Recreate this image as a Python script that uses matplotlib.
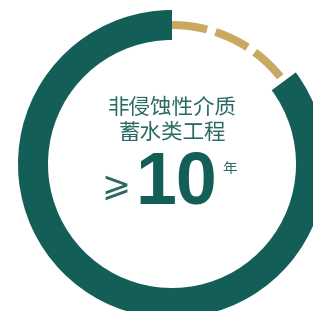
import matplotlib
matplotlib.use('Agg')
import matplotlib.pyplot as plt
import numpy as np
from matplotlib.patches import Wedge

plt.rcParams['font.family'] = ['Noto Sans CJK SC', 'DejaVu Sans']

# ring data (degrees, counter-clockwise from 3 o'clock)
solid_span = [36.5, 90.0]      # teal ring goes from 90 round to 36.5
dash_span = [36.5, 90.0]       # gold dashed part
title_lines = ['非侵蚀性介质', '蓄水类工程']
big_value = '10'
unit = '年'
prefix = '⩾'

teal = '#145e58'
gold = '#c9a862'
text_col = '#2b6a64'

W, H = 313, 311
fig = plt.figure(figsize=(W / 100, H / 100), dpi=100)
ax = fig.add_axes([0, 0, 1, 1])
ax.set_xlim(0, W)
ax.set_ylim(0, H)
ax.set_aspect('equal')
ax.axis('off')

cx, cy = 172, H - 164
r_out = 154
ring_w = 30

ax.add_patch(Wedge((cx, cy), r_out, solid_span[1], solid_span[0] + 360,
                   width=ring_w, facecolor=teal, edgecolor='none'))

# gold dashes run clockwise from the top
r_mid = r_out - ring_w / 2
t = np.radians(np.linspace(dash_span[1], dash_span[0], 200))
ax.plot(cx + r_mid * np.cos(t), cy + r_mid * np.sin(t), color=gold, lw=5.8,
        solid_capstyle='butt', dash_capstyle='butt', linestyle=(0, (4.4, 1.1)))

ax.text(cx, H - 108, title_lines[0], ha='center', va='center', fontsize=15.5,
        color=text_col)
ax.text(cx, H - 133, title_lines[1], ha='center', va='center', fontsize=15.5,
        color=text_col)
ax.text(176, H - 184, big_value, ha='center', va='center', fontsize=53,
        fontweight='bold', family='Liberation Sans', color=teal)
ax.text(116, H - 186, prefix, ha='center', va='center', fontsize=25, color=text_col)
ax.text(230, H - 169, unit, ha='center', va='center', fontsize=10.5, color=text_col)

fig.savefig('out.png', dpi=100)
